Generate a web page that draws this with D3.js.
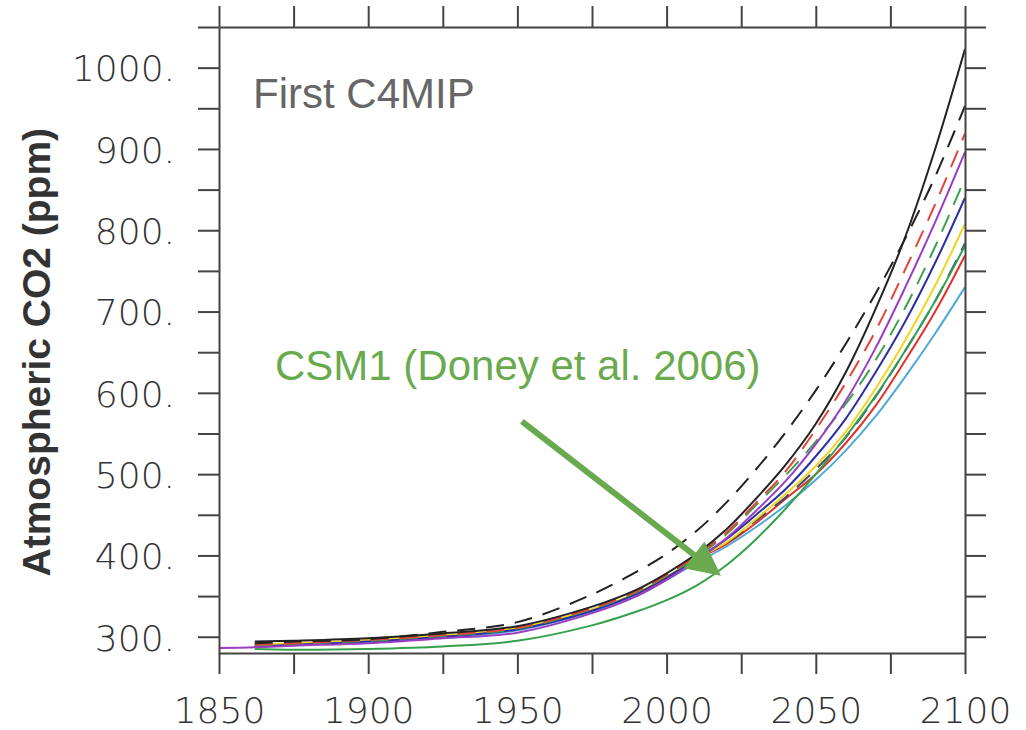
<!DOCTYPE html>
<html>
<head>
<meta charset="utf-8">
<script src="https://cdn.jsdelivr.net/npm/d3@7"></script>
<style>
  body { margin: 0; background: #fff; }
  svg { display: block; }
  .axis path, .axis line { stroke: #444; stroke-width: 2; }
  .axis text { font-family: "DejaVu Sans", sans-serif; font-weight: 300; font-size: 36px; fill: #333; }
</style>
</head>
<body>
<div id="chart"></div>
<script>
const years = [1850, 1862, 1875, 1900, 1925, 1950, 1975, 1990, 2000, 2010, 2020, 2030, 2040, 2050, 2060, 2070, 2080, 2090, 2100];

const blackSolid  = [null, 294, 295, 298, 304, 313, 337, 358, 378, 402, 432, 470, 512, 562, 625, 703, 792, 900, 1023];
const blackDashed = [null, 292, 294, 297, 306, 318, 352, 380, 402, 430, 465, 506, 552, 603, 660, 722, 790, 866, 953];
const redDashed   = [null, 290, 292, 296, 302, 311, 335, 356, 376, 400, 428, 465, 504, 555, 612, 676, 752, 832, 919];
const purple      = [286, 287, 289, 292, 298, 305, 329, 350, 370, 394, 421, 455, 492, 537, 590, 655, 730, 810, 896];
const greenDashed = [null, 289, 291, 295, 301, 310, 334, 355, 375, 398, 426, 462, 499, 540, 586, 640, 705, 780, 864];
const blue        = [null, 288, 290, 294, 300, 309, 332, 353, 373, 396, 420, 450, 482, 522, 568, 625, 688, 760, 840];
const yellow      = [null, 290, 292, 296, 302, 311, 334, 354, 374, 396, 416, 445, 476, 510, 552, 605, 665, 732, 808];
const navyDashed  = [null, 291, 293, 297, 303, 312, 335, 355, 375, 397, 415, 443, 472, 506, 545, 595, 652, 713, 784];
const redSolid    = [null, 289, 291, 295, 301, 310, 333, 353, 372, 395, 414, 440, 470, 500, 538, 584, 640, 700, 769];
const cyan        = [null, 288, 290, 293, 299, 308, 331, 351, 370, 391, 411, 435, 462, 493, 529, 571, 620, 673, 730];
const csm1        = [null, 285, 284, 285, 288, 295, 314, 331, 345, 363, 388, 420, 458, 500, 546, 596, 652, 713, 781];

const series = [
    {values: cyan,        color: "#4fa9d6", dash: null},
    {values: redSolid,    color: "#e2302b", dash: null},
    {values: navyDashed,  color: "#3a4a6e", dash: "18,11"},
    {values: yellow,      color: "#f2d422", dash: null},
    {values: blue,        color: "#2b2fa0", dash: null},
    {values: greenDashed, color: "#3f9f4f", dash: "18,11"},
    {values: purple,      color: "#9a3cc4", dash: null},
    {values: redDashed,   color: "#e2443a", dash: "18,11"},
    {values: blackDashed, color: "#222",    dash: "18,11"},
    {values: blackSolid,  color: "#222",    dash: null},
    {values: csm1,        color: "#35a04c", dash: null}
];

const xTicks = d3.range(1850, 2101, 25);
const yTicks = d3.range(300, 1051, 50);

const width = 1026, height = 730;
const margin = {top: 27, right: 61, bottom: 77, left: 219};

const svg = d3.select("#chart").append("svg")
    .attr("width", width)
    .attr("height", height);

const x = d3.scaleLinear().domain([1850, 2100]).range([margin.left, width - margin.right]);
const y = d3.scaleLinear().domain([280, 1050]).range([height - margin.bottom, margin.top]);

// curves
const line = d3.line()
    .defined(d => d.v != null)
    .x(d => x(d.year))
    .y(d => y(d.v))
    .curve(d3.curveCatmullRom.alpha(0.5));

const g = svg.append("g");
series.forEach(s => {
    g.append("path")
        .datum(years.map((yr, i) => ({year: yr, v: s.values[i]})))
        .attr("fill", "none")
        .attr("stroke", s.color)
        .attr("stroke-width", 2)
        .attr("stroke-dasharray", s.dash)
        .attr("d", line);
});

// frame with outward ticks on all four sides
svg.append("g")
    .attr("class", "axis")
    .attr("transform", `translate(${margin.left},0)`)
    .call(d3.axisLeft(y).tickValues(yTicks).tickSize(21).tickSizeOuter(0).tickPadding(23)
        .tickFormat(d => d % 100 === 0 ? d + "." : ""))
    .selectAll("text").attr("dy", "0.37em");

svg.append("g")
    .attr("class", "axis")
    .attr("transform", `translate(${width - margin.right},0)`)
    .call(d3.axisRight(y).tickValues(yTicks).tickSize(21).tickSizeOuter(0).tickFormat(""));

svg.append("g")
    .attr("class", "axis")
    .attr("transform", `translate(0,${height - margin.bottom})`)
    .call(d3.axisBottom(x).tickValues(xTicks).tickSize(21).tickSizeOuter(0).tickPadding(23)
        .tickFormat(d => d % 50 === 0 ? d : ""));

svg.append("g")
    .attr("class", "axis")
    .attr("transform", `translate(0,${margin.top})`)
    .call(d3.axisTop(x).tickValues(xTicks).tickSize(21).tickSizeOuter(0).tickFormat(""));

// y title
svg.append("text")
    .attr("transform", `translate(50,${y(650)}) rotate(-90)`)
    .attr("text-anchor", "middle")
    .style("font-family", "Liberation Sans, Arial, sans-serif")
    .style("font-weight", "bold")
    .style("font-size", "39px")
    .style("fill", "#333")
    .text("Atmospheric CO2 (ppm)");

svg.append("text")
    .attr("x", margin.left + 34)
    .attr("y", 108)
    .style("font-family", "Liberation Sans, Arial, sans-serif")
    .style("font-size", "42px")
    .style("fill", "#666")
    .text("First C4MIP");

// annotation for CSM1
const green = "#6aaa4f";
svg.append("text")
    .attr("x", 275)
    .attr("y", 380)
    .style("font-family", "Liberation Sans, Arial, sans-serif")
    .style("font-size", "42px")
    .style("fill", green)
    .text("CSM1 (Doney et al. 2006)");

const a0 = [x(1951.5), y(565)], a1 = [x(2018.2), y(375)];
const len = Math.hypot(a1[0] - a0[0], a1[1] - a0[1]);
const ux = (a1[0] - a0[0]) / len, uy = (a1[1] - a0[1]) / len;
const headLen = 34, headW = 17;
const bx = a1[0] - ux * headLen, by = a1[1] - uy * headLen;

svg.append("line")
    .attr("x1", a0[0]).attr("y1", a0[1])
    .attr("x2", bx + ux * 4).attr("y2", by + uy * 4)
    .attr("stroke", green)
    .attr("stroke-width", 6);

svg.append("path")
    .attr("d", `M${a1[0]},${a1[1]}L${bx - uy * headW},${by + ux * headW}L${bx + uy * headW},${by - ux * headW}Z`)
    .attr("fill", green);
</script>
</body>
</html>
